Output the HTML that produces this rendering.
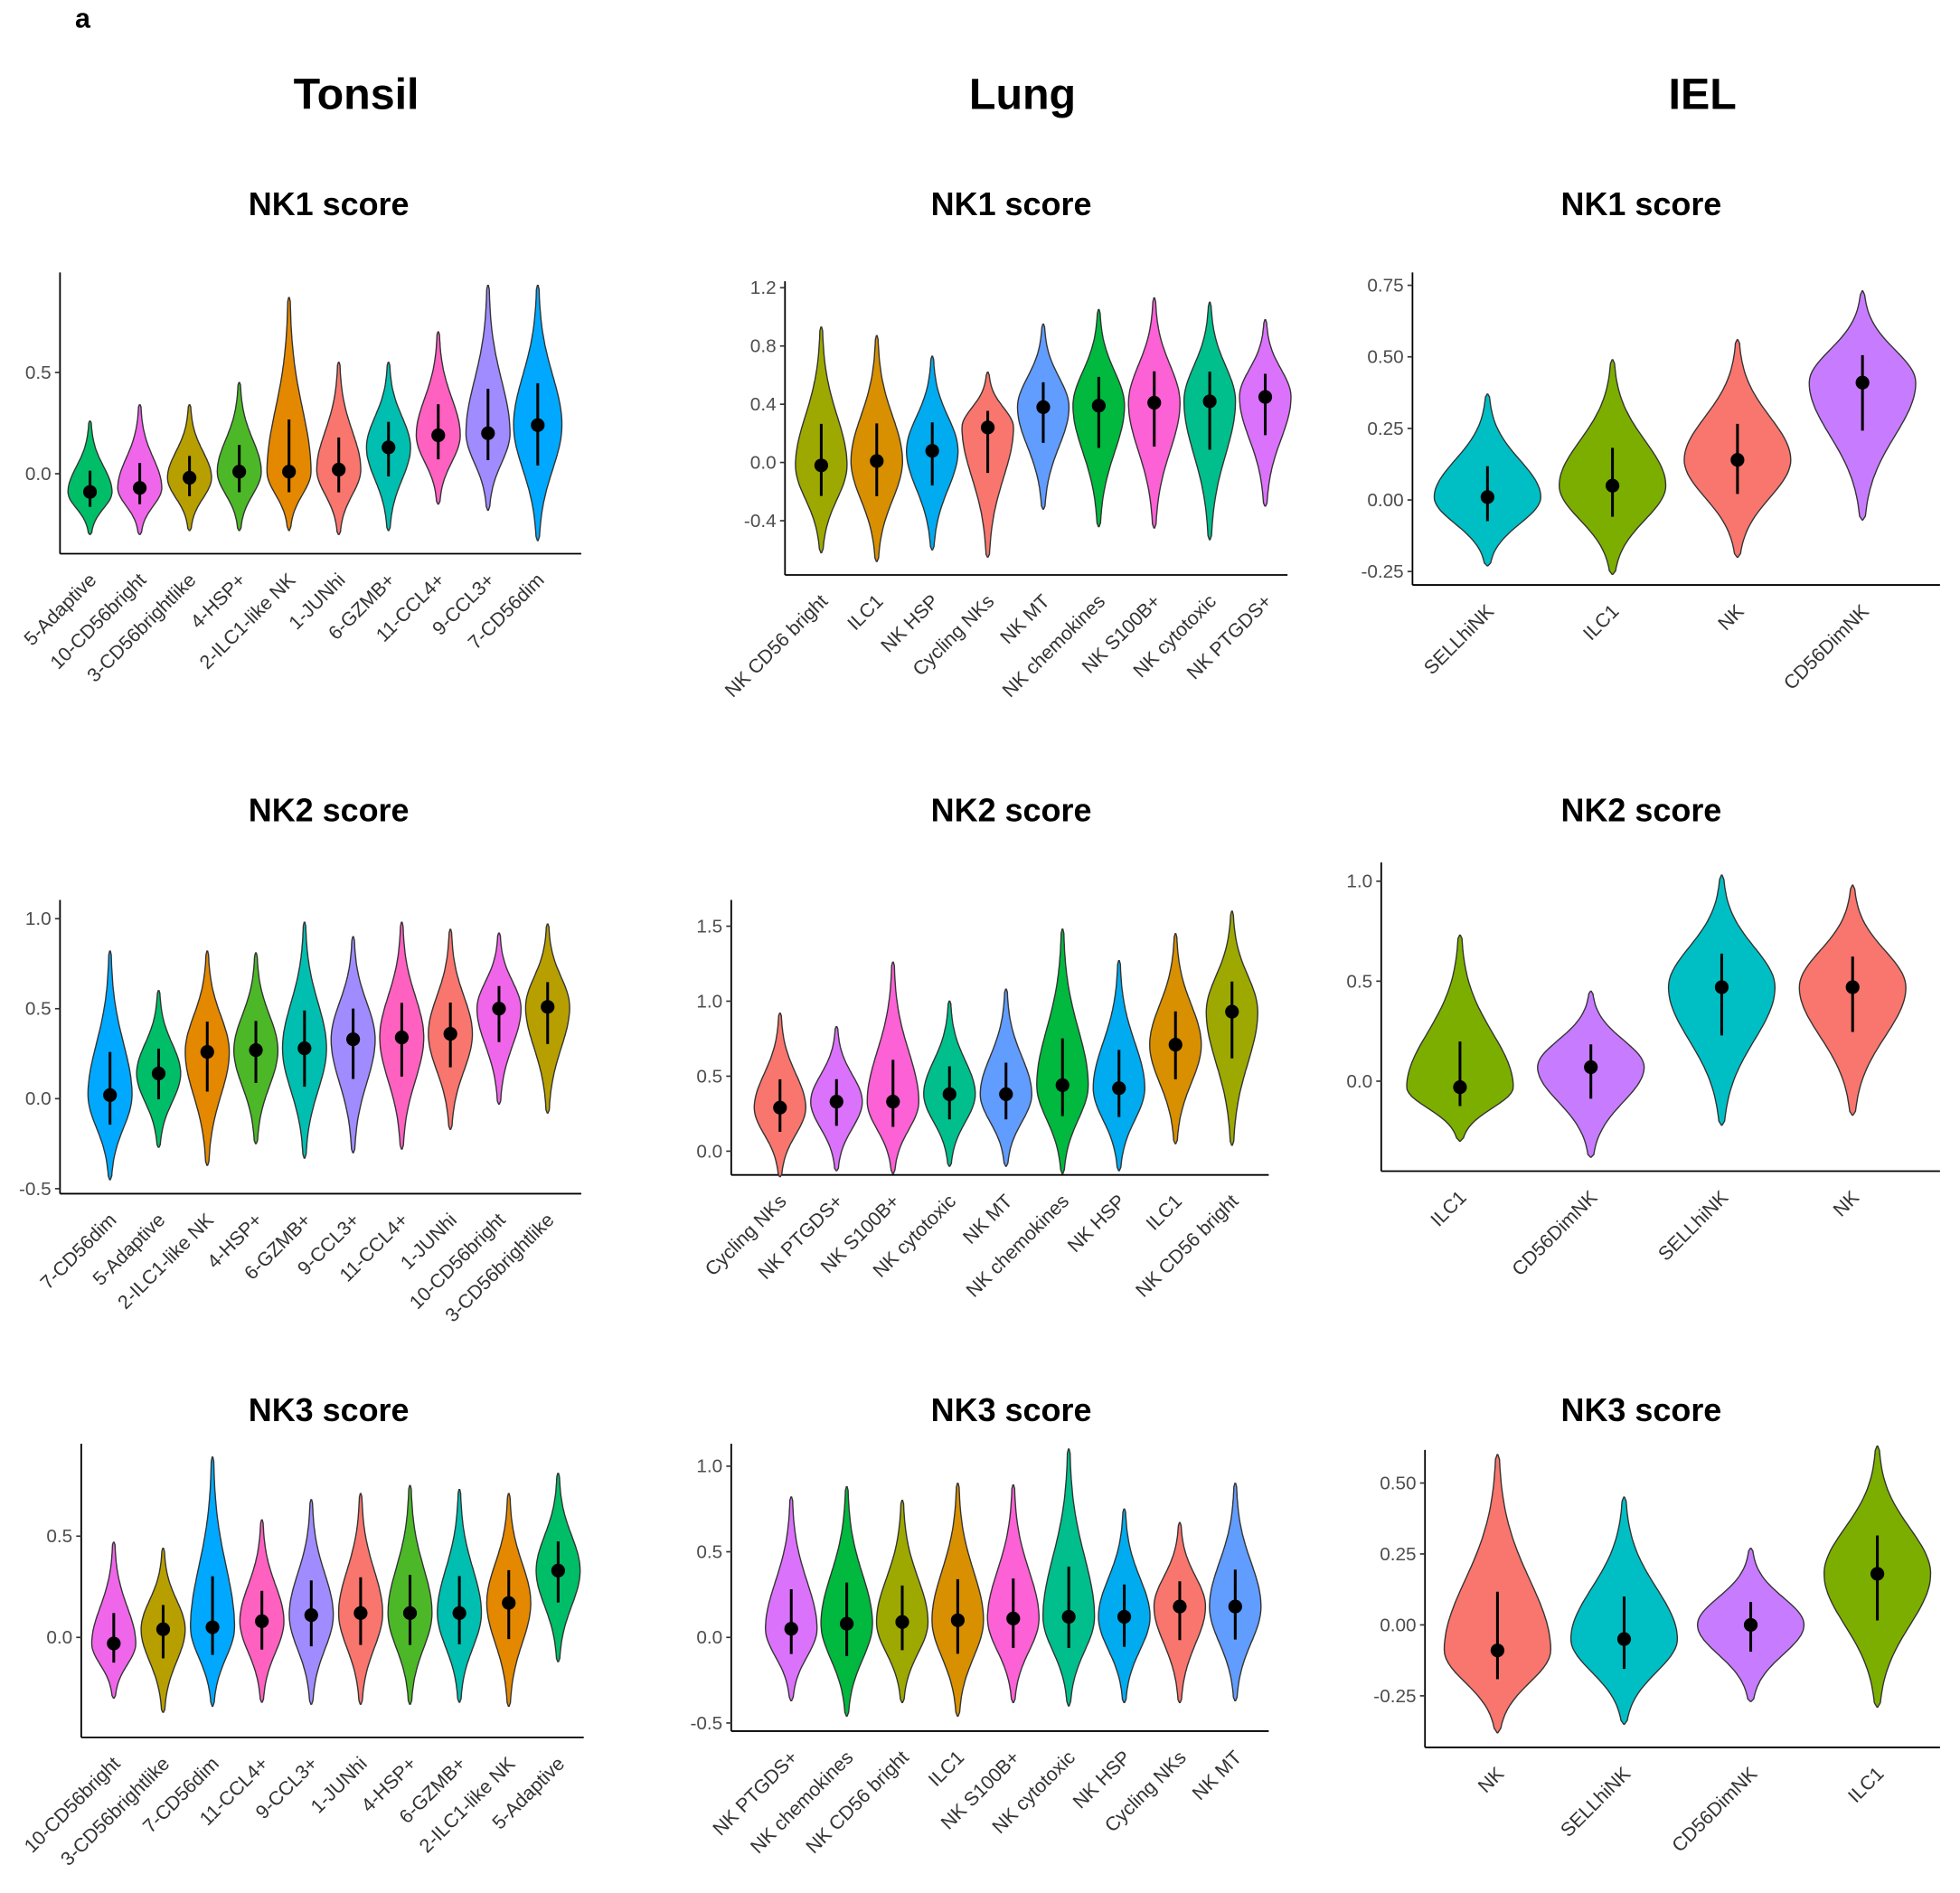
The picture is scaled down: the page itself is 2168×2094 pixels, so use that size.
<!DOCTYPE html>
<html><head><meta charset="utf-8">
<style>
html,body{margin:0;padding:0;background:#fff;}
svg{display:block;}
text{font-family:"Liberation Sans",Arial,sans-serif;}
</style></head>
<body>
<svg id="s" width="2168" height="2094" viewBox="0 0 1568 1514.5" xmlns="http://www.w3.org/2000/svg">
<rect width="1568" height="1514.5" fill="#fff"/>
<text x="60" y="22" font-size="22" font-weight="bold">a</text>
<text x="285" y="87" font-size="35" font-weight="bold" text-anchor="middle">Tonsil</text>
<text x="818" y="87" font-size="35" font-weight="bold" text-anchor="middle">Lung</text>
<text x="1362" y="87" font-size="35" font-weight="bold" text-anchor="middle">IEL</text>
</svg>
<script>
var C={ad:"#00BE67",cb:"#F066EA",cbl:"#B89F00",hsp:"#4CB828",ilc:"#E48800",jun:"#F8766D",gz:"#00BFB0",ccl4:"#FF61C0",ccl3:"#A08CFF",dim:"#00A9FF",
olive:"#9DA900",orange:"#D89000",blue:"#00ABF0",salmon:"#F8766D",corn:"#619CFF",green:"#00B93E",pink:"#FC61D5",teal:"#00BF8C",violet:"#DB72FB",
iteal:"#00BFC4",iolive:"#7CAE00",ipurp:"#C77CFF"};
var s=document.getElementById('s'),NS="http://www.w3.org/2000/svg";
function el(t,a,txt){var e=document.createElementNS(NS,t);for(var k in a)e.setAttribute(k,a[k]);if(txt!=null)e.textContent=txt;s.appendChild(e);return e;}
function panel(p){
 el('text',{x:p.tx,y:p.ty,'font-size':26,'font-weight':'bold','text-anchor':'middle'},p.title);
 el('line',{x1:p.ax,y1:p.y0,x2:p.ax,y2:p.ay,stroke:'#000','stroke-width':1.3});
 el('line',{x1:p.ax,y1:p.ay,x2:p.ax2,y2:p.ay,stroke:'#000','stroke-width':1.3});
 p.ticks.forEach(function(t){var y=p.zy-t[0]*p.k;
  el('line',{x1:p.ax-4,y1:y,x2:p.ax,y2:y,stroke:'#333','stroke-width':1.2});
  el('text',{x:p.ax-7,y:y+5,'font-size':15,fill:'#4d4d4d','text-anchor':'end'},t[1]);});
 p.v.forEach(function(v,i){
  var x=p.x0+i*p.dx,m=v[2],mn=v[3],mx=v[4],W=p.W*(v[5]||1);
  var sl=(m-mn)/2.6, sh=(mx-m)/2.8, N=60, L=[],R=[];
  for(var j=0;j<=N;j++){var val=mn+(mx-mn)*j/N,d=val-m,sg=d<0?sl:sh;
   var w=W*Math.exp(-0.5*(d/sg)*(d/sg))+0.6;
   if(j==0||j==N)w=0.3;
   var y=p.zy-val*p.k;L.push([x-w,y]);R.push([x+w,y]);}
  var pts=L.concat(R.reverse()).map(function(q){return q[0].toFixed(1)+','+q[1].toFixed(1)}).join(' ');
  el('polygon',{points:pts,fill:v[1],stroke:'#333','stroke-width':1});
  var lo=m-0.35*(m-mn),hi=m+0.3*(mx-m);
  el('line',{x1:x,y1:p.zy-lo*p.k,x2:x,y2:p.zy-hi*p.k,stroke:'#000','stroke-width':2.2});
  el('circle',{cx:x,cy:p.zy-m*p.k,r:5.5,fill:'#000'});
  var ly=p.ay+16;
  el('text',{x:x+6,y:ly+6,'font-size':15.5,fill:'#333','text-anchor':'end',transform:'rotate(-45 '+(x+6)+' '+(ly+6)+')'},v[0]);
 });
}
var T2=[[0.5,'0.5'],[0,'0.0']];
panel({title:'NK1 score',tx:263,ty:172,ax:48,y0:218,ay:443,ax2:465,zy:379,k:162,ticks:T2,x0:72,dx:39.8,W:17,v:[
['5-Adaptive',C.ad,-0.09,-0.3,0.26],['10-CD56bright',C.cb,-0.07,-0.3,0.34],['3-CD56brightlike',C.cbl,-0.02,-0.28,0.34],['4-HSP+',C.hsp,0.01,-0.28,0.45],['2-ILC1-like NK',C.ilc,0.01,-0.28,0.87],['1-JUNhi',C.jun,0.02,-0.3,0.55],['6-GZMB+',C.gz,0.13,-0.28,0.55],['11-CCL4+',C.ccl4,0.19,-0.15,0.7],['9-CCL3+',C.ccl3,0.2,-0.18,0.93],['7-CD56dim',C.dim,0.24,-0.33,0.93,1.1]]});
panel({title:'NK1 score',tx:809,ty:172,ax:628,y0:225,ay:460,ax2:1030,zy:370,k:116.5,ticks:[[1.2,'1.2'],[0.8,'0.8'],[0.4,'0.4'],[0,'0.0'],[-0.4,'-0.4']],x0:657,dx:44.4,W:20,v:[
['NK CD56 bright',C.olive,-0.02,-0.62,0.93],['ILC1',C.orange,0.01,-0.68,0.87],['NK HSP',C.blue,0.08,-0.6,0.73],['Cycling NKs',C.salmon,0.24,-0.65,0.62],['NK MT',C.corn,0.38,-0.32,0.95],['NK chemokines',C.green,0.39,-0.44,1.05],['NK S100B+',C.pink,0.41,-0.45,1.13],['NK cytotoxic',C.teal,0.42,-0.53,1.1],['NK PTGDS+',C.violet,0.45,-0.3,0.98]]});
panel({title:'NK1 score',tx:1313,ty:172,ax:1130,y0:218,ay:468,ax2:1552,zy:400,k:229,ticks:[[0.75,'0.75'],[0.5,'0.50'],[0.25,'0.25'],[0,'0.00'],[-0.25,'-0.25']],x0:1190,dx:100,W:42,v:[
['SELLhiNK',C.iteal,0.01,-0.23,0.37],['ILC1',C.iolive,0.05,-0.26,0.49],['NK',C.salmon,0.14,-0.2,0.56],['CD56DimNK',C.ipurp,0.41,-0.07,0.73]]});
panel({title:'NK2 score',tx:263,ty:657,ax:48,y0:720,ay:955,ax2:465,zy:879,k:144,ticks:[[1,'1.0'],[0.5,'0.5'],[0,'0.0'],[-0.5,'-0.5']],x0:88,dx:38.9,W:17,v:[
['7-CD56dim',C.dim,0.02,-0.45,0.82],['5-Adaptive',C.ad,0.14,-0.27,0.6],['2-ILC1-like NK',C.ilc,0.26,-0.37,0.82],['4-HSP+',C.hsp,0.27,-0.25,0.81],['6-GZMB+',C.gz,0.28,-0.33,0.98],['9-CCL3+',C.ccl3,0.33,-0.3,0.9],['11-CCL4+',C.ccl4,0.34,-0.28,0.98],['1-JUNhi',C.jun,0.36,-0.17,0.94],['10-CD56bright',C.cb,0.5,-0.03,0.92],['3-CD56brightlike',C.cbl,0.51,-0.08,0.97]]});
panel({title:'NK2 score',tx:809,ty:657,ax:585,y0:720,ay:940,ax2:1015,zy:921,k:120,ticks:[[1.5,'1.5'],[1,'1.0'],[0.5,'0.5'],[0,'0.0']],x0:624,dx:45.2,W:20,v:[
['Cycling NKs',C.salmon,0.29,-0.17,0.92],['NK PTGDS+',C.violet,0.33,-0.13,0.83],['NK S100B+',C.pink,0.33,-0.15,1.26],['NK cytotoxic',C.teal,0.38,-0.1,1.0],['NK MT',C.corn,0.38,-0.1,1.08],['NK chemokines',C.green,0.44,-0.15,1.48],['NK HSP',C.blue,0.42,-0.13,1.27],['ILC1',C.orange,0.71,0.05,1.45],['NK CD56 bright',C.olive,0.93,0.04,1.6]]});
panel({title:'NK2 score',tx:1313,ty:657,ax:1105,y0:690,ay:937,ax2:1552,zy:865,k:160,ticks:[[1,'1.0'],[0.5,'0.5'],[0,'0.0']],x0:1168,dx:104.7,W:42,v:[
['ILC1',C.iolive,-0.03,-0.3,0.73],['CD56DimNK',C.ipurp,0.07,-0.38,0.45],['SELLhiNK',C.iteal,0.47,-0.22,1.03],['NK',C.salmon,0.47,-0.17,0.98]]});
panel({title:'NK3 score',tx:263,ty:1137,ax:65,y0:1155,ay:1390,ax2:467,zy:1310,k:162,ticks:T2,x0:91,dx:39.5,W:17,v:[
['10-CD56bright',C.cb,-0.03,-0.3,0.47],['3-CD56brightlike',C.cbl,0.04,-0.37,0.44],['7-CD56dim',C.dim,0.05,-0.34,0.89],['11-CCL4+',C.ccl4,0.08,-0.32,0.58],['9-CCL3+',C.ccl3,0.11,-0.33,0.68],['1-JUNhi',C.jun,0.12,-0.33,0.71],['4-HSP+',C.hsp,0.12,-0.33,0.75],['6-GZMB+',C.gz,0.12,-0.32,0.73],['2-ILC1-like NK',C.ilc,0.17,-0.34,0.71],['5-Adaptive',C.ad,0.33,-0.12,0.81]]});
panel({title:'NK3 score',tx:809,ty:1137,ax:585,y0:1155,ay:1385,ax2:1015,zy:1310,k:137,ticks:[[1,'1.0'],[0.5,'0.5'],[0,'0.0'],[-0.5,'-0.5']],x0:633,dx:44.4,W:20,v:[
['NK PTGDS+',C.violet,0.05,-0.37,0.82],['NK chemokines',C.green,0.08,-0.46,0.88],['NK CD56 bright',C.olive,0.09,-0.38,0.8],['ILC1',C.orange,0.1,-0.46,0.9],['NK S100B+',C.pink,0.11,-0.38,0.89],['NK cytotoxic',C.teal,0.12,-0.4,1.1],['NK HSP',C.blue,0.12,-0.38,0.75],['Cycling NKs',C.salmon,0.18,-0.38,0.67],['NK MT',C.corn,0.18,-0.37,0.9]]});
panel({title:'NK3 score',tx:1313,ty:1137,ax:1140,y0:1160,ay:1398,ax2:1552,zy:1300,k:227,ticks:[[0.5,'0.50'],[0.25,'0.25'],[0,'0.00'],[-0.25,'-0.25']],x0:1198,dx:101.3,W:42,v:[
['NK',C.salmon,-0.09,-0.38,0.6],['SELLhiNK',C.iteal,-0.05,-0.35,0.45],['CD56DimNK',C.ipurp,0,-0.27,0.27],['ILC1',C.iolive,0.18,-0.29,0.63]]});
</script>
</body></html>
